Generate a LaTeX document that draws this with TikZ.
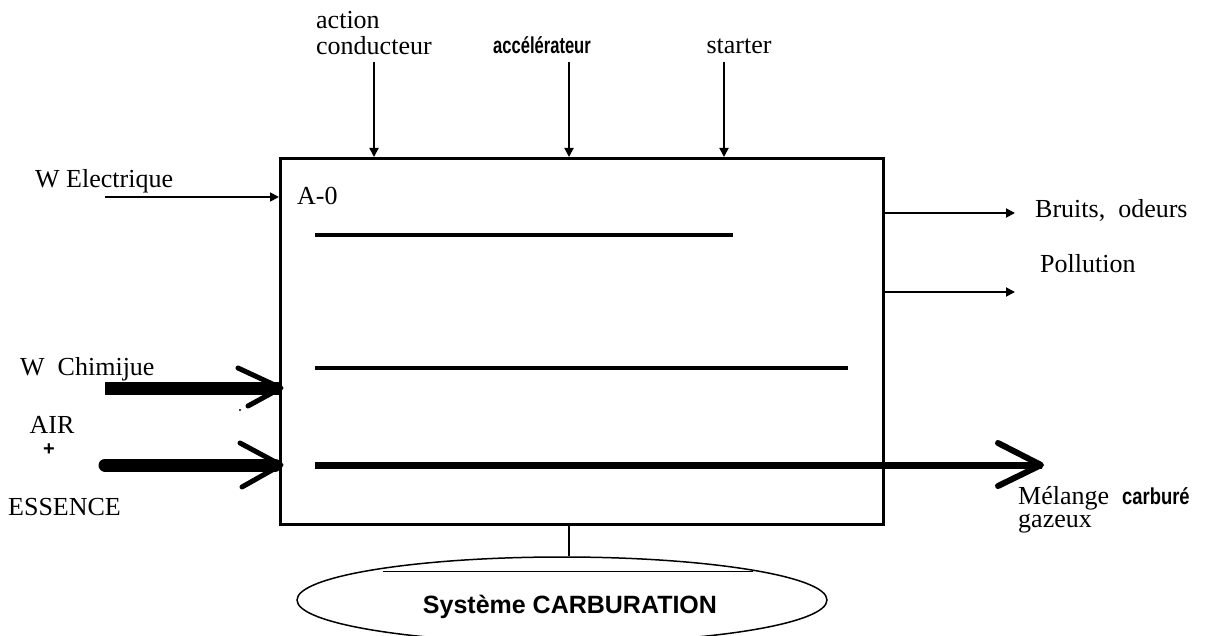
\documentclass[tikz,border=0pt]{standalone}
\usepackage{fontspec}
\setmainfont{Liberation Serif}
\newfontfamily\arial{Liberation Sans}
\usetikzlibrary{arrows.meta,shapes.geometric}
\begin{document}
\begin{tikzpicture}[x=1pt,y=-1pt,
  lbl/.style={inner sep=0pt, font=\fontsize{26}{28}\selectfont},
  sanslbl/.style={inner sep=0pt, font=\arial\bfseries\fontsize{23}{25}\selectfont},
  sig/.style={line width=1.8pt, -{Triangle[length=9pt,width=9pt]}},
  fat/.style={line width=13pt},
  chev/.style={line width=5pt, line cap=round, line join=round},
  inner/.style={line width=4pt}
]
\useasboundingbox (0,0) rectangle (1214,636);
% main box
\node[draw, line width=3pt, minimum width=603pt, minimum height=366pt, anchor=north west, inner sep=0pt] (box) at (279,157) {};
% top controls
\node[lbl, anchor=west] (act) at (316,20) {action};
\node[lbl, anchor=west] (cond) at (316,46) {conducteur};
\node[sanslbl] (acc) at (542,45) {\scalebox{0.72}[1]{accélérateur}};
\node[lbl] (star) at (739,46) {starter};
\coordinate (t1) at (374,62);
\coordinate (t2) at (569,62);
\coordinate (t3) at (724,62);
\draw[sig] (t1) -- (t1 |- box.north);
\draw[sig] (t2) -- (t2 |- box.north);
\draw[sig] (t3) -- (t3 |- box.north);
% left inputs
\node[lbl, anchor=west] (we) at (35,181) {W Electrique};
\coordinate (we0) at (105,197);
\draw[sig] (we0) -- (we0 -| box.west);
\node[lbl, anchor=west] (ao) at (297,196) {A-0};
\node[lbl, anchor=west] (wc) at (20,369) {W\ \ Chimijue};
\coordinate (wc0) at (105,388);
\draw[fat] (wc0) -- (wc0 -| box.west);
\draw[chev] (238,368) -- (281,388) -- (248,406);
\fill (240,410) circle (1.2pt);
\node[lbl] (air) at (52,425) {AIR};
\node[inner sep=0pt, font=\arial\bfseries\fontsize{20}{22}\selectfont] (plus) at (49,450) {+};
\node[lbl, anchor=west] (ess) at (8,507) {ESSENCE};
\coordinate (ae0) at (105,465);
\draw[fat, line cap=round] (ae0) -- ([xshift=-4pt]ae0 -| box.west);
\draw[chev] (240,443) -- (281,465) -- (242,487);
% inner lines
\draw[inner] (315,235) -- (733,235);
\draw[inner] (315,368) -- (848,368);
% outputs
\node[lbl, anchor=west] (bo) at (1035,210) {Bruits,\ \ odeurs};
\node[lbl, anchor=west] (po) at (1040,264) {Pollution};
\coordinate (bo1) at (1015,213);
\coordinate (po1) at (1015,292);
\draw[sig] (bo1 -| box.east) -- (bo1);
\draw[sig] (po1 -| box.east) -- (po1);
\coordinate (m0) at (315,465);
\coordinate (m1) at (1042,465);
\draw[line width=7pt] (m0) -- (m1);
\draw[chev, line width=6pt] (998,443) -- (1041,465) -- (998,486);
\node[lbl, anchor=west] (mel) at (1018,498) {Mélange\ \ {\arial\bfseries\fontsize{23}{25}\selectfont\scalebox{0.8}[1]{carburé}}};
\node[lbl, anchor=west] (gaz) at (1018,524) {gazeux};
% mechanism
\node[draw, ellipse, line width=1.5pt, minimum width=530pt, minimum height=86pt, inner sep=0pt] (sys) at (562,600) {};
\node[inner sep=0pt, font=\arial\bfseries\fontsize{25}{27}\selectfont] (syslbl) at (570,607) {Système CARBURATION};
\coordinate (mech) at (569,523);
\draw[line width=2pt] (mech) -- (mech |- sys.north);
\draw[line width=0.8pt] (383,571) -- (753,571);
\end{tikzpicture}
\end{document}
